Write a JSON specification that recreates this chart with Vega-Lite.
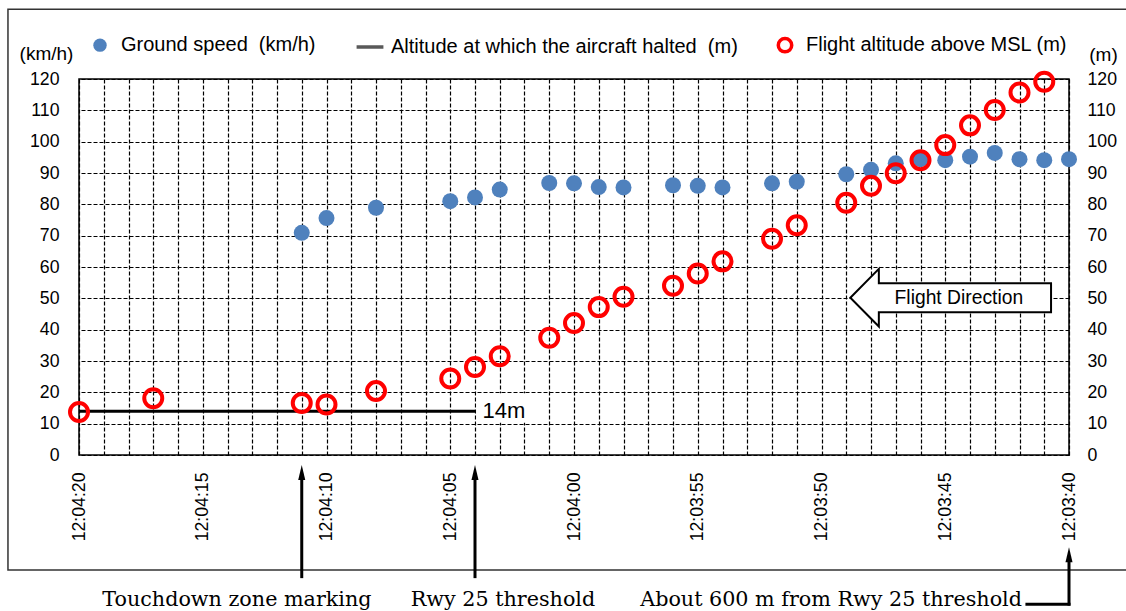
{
  "$schema": "https://vega.github.io/schema/vega-lite/v6.json",
  "width": 990,
  "height": 376,
  "autosize": {"type": "none"},
  "padding": {"left": 79, "top": 79, "right": 57, "bottom": 156},
  "background": "white",
  "config": {
    "font": "Liberation Sans",
    "view": {"stroke": "black", "strokeWidth": 1.5},
    "axis": {
      "domain": false, "ticks": false,
      "labelColor": "black", "labelFontSize": 17.7, "labelFont": "Liberation Sans",
      "titleFont": "Liberation Sans", "titleColor": "black", "titleFontSize": 19, "titleFontWeight": "normal",
      "gridColor": "black", "gridDash": [4, 2], "gridWidth": 1.2, "gridOpacity": 1,
      "labelFlush": false, "labelOverlap": false
    },
    "legend": {
      "orient": "none", "legendX": 11, "legendY": -44, "direction": "horizontal",
      "labelFontSize": 20, "labelColor": "black", "labelFont": "Liberation Sans", "labelLimit": 0,
      "labelOffset": 11, "columnPadding": 33, "symbolStrokeWidth": 3.5, "symbolSize": 180, "padding": 0, "symbolOpacity": 1
    }
  },
  "datasets": {
    "flight": [
      {"time": "2012-01-01T12:04:11", "series": "speed", "value": 70.9},
      {"time": "2012-01-01T12:04:10", "series": "speed", "value": 75.6},
      {"time": "2012-01-01T12:04:08", "series": "speed", "value": 78.9},
      {"time": "2012-01-01T12:04:05", "series": "speed", "value": 81.0},
      {"time": "2012-01-01T12:04:04", "series": "speed", "value": 82.2},
      {"time": "2012-01-01T12:04:03", "series": "speed", "value": 84.7},
      {"time": "2012-01-01T12:04:01", "series": "speed", "value": 86.8},
      {"time": "2012-01-01T12:04:00", "series": "speed", "value": 86.7},
      {"time": "2012-01-01T12:03:59", "series": "speed", "value": 85.5},
      {"time": "2012-01-01T12:03:58", "series": "speed", "value": 85.4},
      {"time": "2012-01-01T12:03:56", "series": "speed", "value": 86.1},
      {"time": "2012-01-01T12:03:55", "series": "speed", "value": 85.9},
      {"time": "2012-01-01T12:03:54", "series": "speed", "value": 85.4},
      {"time": "2012-01-01T12:03:52", "series": "speed", "value": 86.7},
      {"time": "2012-01-01T12:03:51", "series": "speed", "value": 87.2},
      {"time": "2012-01-01T12:03:49", "series": "speed", "value": 89.6},
      {"time": "2012-01-01T12:03:48", "series": "speed", "value": 91.0},
      {"time": "2012-01-01T12:03:47", "series": "speed", "value": 93.1},
      {"time": "2012-01-01T12:03:46", "series": "speed", "value": 94.4},
      {"time": "2012-01-01T12:03:45", "series": "speed", "value": 94.1},
      {"time": "2012-01-01T12:03:44", "series": "speed", "value": 95.2},
      {"time": "2012-01-01T12:03:43", "series": "speed", "value": 96.4},
      {"time": "2012-01-01T12:03:42", "series": "speed", "value": 94.4},
      {"time": "2012-01-01T12:03:41", "series": "speed", "value": 94.1},
      {"time": "2012-01-01T12:03:40", "series": "speed", "value": 94.4},
      {"time": "2012-01-01T12:04:20", "series": "alt", "value": 13.7},
      {"time": "2012-01-01T12:04:17", "series": "alt", "value": 18.1},
      {"time": "2012-01-01T12:04:11", "series": "alt", "value": 16.6},
      {"time": "2012-01-01T12:04:10", "series": "alt", "value": 16.1},
      {"time": "2012-01-01T12:04:08", "series": "alt", "value": 20.4},
      {"time": "2012-01-01T12:04:05", "series": "alt", "value": 24.4},
      {"time": "2012-01-01T12:04:04", "series": "alt", "value": 28.1},
      {"time": "2012-01-01T12:04:03", "series": "alt", "value": 31.5},
      {"time": "2012-01-01T12:04:01", "series": "alt", "value": 37.4},
      {"time": "2012-01-01T12:04:00", "series": "alt", "value": 42.1},
      {"time": "2012-01-01T12:03:59", "series": "alt", "value": 47.2},
      {"time": "2012-01-01T12:03:58", "series": "alt", "value": 50.5},
      {"time": "2012-01-01T12:03:56", "series": "alt", "value": 54.0},
      {"time": "2012-01-01T12:03:55", "series": "alt", "value": 57.9},
      {"time": "2012-01-01T12:03:54", "series": "alt", "value": 61.8},
      {"time": "2012-01-01T12:03:52", "series": "alt", "value": 69.0},
      {"time": "2012-01-01T12:03:51", "series": "alt", "value": 73.3},
      {"time": "2012-01-01T12:03:49", "series": "alt", "value": 80.5},
      {"time": "2012-01-01T12:03:48", "series": "alt", "value": 85.9},
      {"time": "2012-01-01T12:03:47", "series": "alt", "value": 89.9},
      {"time": "2012-01-01T12:03:46", "series": "alt", "value": 94.1},
      {"time": "2012-01-01T12:03:45", "series": "alt", "value": 98.9},
      {"time": "2012-01-01T12:03:44", "series": "alt", "value": 105.2},
      {"time": "2012-01-01T12:03:43", "series": "alt", "value": 110.1},
      {"time": "2012-01-01T12:03:42", "series": "alt", "value": 115.7},
      {"time": "2012-01-01T12:03:41", "series": "alt", "value": 119.1}
    ],
    "halt": [
      {"start": "2012-01-01T12:04:20", "end": "2012-01-01T12:04:04", "value": 14}
    ]
  },
  "resolve": {"axis": {"y": "independent"}},
  "layer": [
    {
      "data": {"values": [{}]},
      "mark": {"type": "rect", "filled": false, "stroke": "#333333", "strokeWidth": 1.5},
      "encoding": {
        "x": {"datum": {"year": 2012, "month": 1, "date": 1, "hours": 12, "minutes": 4, "seconds": 22, "milliseconds": 870}, "type": "temporal", "scale": {"domain": [{"year": 2012, "month": 1, "date": 1, "hours": 12, "minutes": 3, "seconds": 40}, {"year": 2012, "month": 1, "date": 1, "hours": 12, "minutes": 4, "seconds": 20}], "reverse": true, "nice": false}},
        "x2": {"datum": {"year": 2012, "month": 1, "date": 1, "hours": 12, "minutes": 3, "seconds": 36}},
        "y": {"datum": 142.3, "type": "quantitative", "scale": {"domain": [0, 120], "nice": false}, "axis": null},
        "y2": {"datum": -36.7}
      }
    },
    {
      "data": {"values": [{}]},
      "mark": {"type": "rect", "fill": "white", "stroke": null},
      "encoding": {
        "x": {"datum": {"year": 2012, "month": 1, "date": 1, "hours": 12, "minutes": 4, "seconds": 3, "milliseconds": 950}, "type": "temporal"},
        "x2": {"datum": {"year": 2012, "month": 1, "date": 1, "hours": 12, "minutes": 4, "seconds": 1, "milliseconds": 400}},
        "y": {"datum": 19.7, "type": "quantitative", "axis": null},
        "y2": {"datum": 10.3}
      }
    },
    {
      "data": {"name": "halt"},
      "mark": {"type": "rule", "stroke": "black", "strokeWidth": 3},
      "encoding": {
        "x": {"field": "start", "type": "temporal"},
        "x2": {"field": "end"},
        "y": {"field": "value", "type": "quantitative",
          "axis": {"orient": "right", "values": [0, 10, 20, 30, 40, 50, 60, 70, 80, 90, 100, 110, 120], "grid": false, "labelPadding": 18, "labelAlign": "left",
            "title": "(m)", "titleAngle": 0, "titleAlign": "center", "titleBaseline": "middle", "titleX": 34, "titleY": -25}}
      }
    },
    {
      "data": {"name": "flight"},
      "transform": [{"filter": {"field": "series", "equal": "speed"}}],
      "mark": {"type": "point", "filled": true, "opacity": 1, "strokeWidth": 4, "size": 256},
      "encoding": {
        "x": {"field": "time", "type": "temporal",
          "axis": {"title": null, "grid": true, "tickCount": 40, "format": "%H:%M:%S",
            "labelExpr": "seconds(datum.value) % 5 == 0 ? datum.label : ''",
            "labelAngle": -90, "labelAlign": "right", "labelBaseline": "middle", "labelPadding": 17}},
        "y": {"field": "value", "type": "quantitative",
          "axis": {"orient": "left", "values": [0, 10, 20, 30, 40, 50, 60, 70, 80, 90, 100, 110, 120], "grid": true, "labelPadding": 20,
            "title": "(km/h)", "titleAngle": 0, "titleAlign": "center", "titleBaseline": "middle", "titleX": -33, "titleY": -26}},
        "fill": {"field": "series", "type": "nominal",
          "scale": {"domain": ["speed", "halt", "alt"], "range": ["#4F81BD", "transparent", "transparent"]},
          "legend": {"title": null, "labelExpr": "datum.value === 'speed' ? 'Ground speed\u00a0 (km/h)' : datum.value === 'halt' ? 'Altitude at which the aircraft halted\u00a0 (m)' : 'Flight altitude above MSL (m)'"}},
        "stroke": {"field": "series", "type": "nominal",
          "scale": {"domain": ["speed", "halt", "alt"], "range": ["transparent", "#595959", "#FF0000"]},
          "legend": {"title": null, "labelExpr": "datum.value === 'speed' ? 'Ground speed\u00a0 (km/h)' : datum.value === 'halt' ? 'Altitude at which the aircraft halted\u00a0 (m)' : 'Flight altitude above MSL (m)'"}},
        "shape": {"field": "series", "type": "nominal",
          "scale": {"domain": ["speed", "halt", "alt"], "range": ["circle", "M-2,0L2,0", "circle"]},
          "legend": {"title": null, "labelExpr": "datum.value === 'speed' ? 'Ground speed\u00a0 (km/h)' : datum.value === 'halt' ? 'Altitude at which the aircraft halted\u00a0 (m)' : 'Flight altitude above MSL (m)'"}}
      }
    },
    {
      "data": {"name": "flight"},
      "transform": [{"filter": {"field": "series", "equal": "alt"}}],
      "mark": {"type": "point", "filled": true, "opacity": 1, "strokeWidth": 4, "size": 324},
      "encoding": {
        "x": {"field": "time", "type": "temporal"},
        "y": {"field": "value", "type": "quantitative", "axis": null},
        "fill": {"field": "series", "type": "nominal",
          "legend": {"title": null, "labelExpr": "datum.value === 'speed' ? 'Ground speed\u00a0 (km/h)' : datum.value === 'halt' ? 'Altitude at which the aircraft halted\u00a0 (m)' : 'Flight altitude above MSL (m)'"}},
        "stroke": {"field": "series", "type": "nominal",
          "legend": {"title": null, "labelExpr": "datum.value === 'speed' ? 'Ground speed\u00a0 (km/h)' : datum.value === 'halt' ? 'Altitude at which the aircraft halted\u00a0 (m)' : 'Flight altitude above MSL (m)'"}},
        "shape": {"field": "series", "type": "nominal",
          "legend": {"title": null, "labelExpr": "datum.value === 'speed' ? 'Ground speed\u00a0 (km/h)' : datum.value === 'halt' ? 'Altitude at which the aircraft halted\u00a0 (m)' : 'Flight altitude above MSL (m)'"}}
      }
    },
    {
      "data": {"values": [{}]},
      "mark": {"type": "text", "text": "14m", "fontSize": 22, "align": "left", "baseline": "middle", "color": "black"},
      "encoding": {
        "x": {"datum": {"year": 2012, "month": 1, "date": 1, "hours": 12, "minutes": 4, "seconds": 3, "milliseconds": 700}, "type": "temporal"},
        "y": {"datum": 14, "type": "quantitative", "axis": null}
      }
    },
    {
      "data": {"values": [{}]},
      "mark": {"type": "point", "shape": "M-1,0L-0.716,-0.287L-0.716,-0.145L1,-0.145L1,0.145L-0.716,0.145L-0.716,0.287Z", "size": 40280, "filled": true, "fill": "white", "stroke": "black", "strokeWidth": 2, "opacity": 1},
      "encoding": {
        "x": {"datum": {"year": 2012, "month": 1, "date": 1, "hours": 12, "minutes": 3, "seconds": 44, "milliseconds": 780}, "type": "temporal"},
        "y": {"datum": 50.2, "type": "quantitative", "axis": null}
      }
    },
    {
      "data": {"values": [{}]},
      "mark": {"type": "text", "text": "Flight Direction", "fontSize": 19.3, "align": "center", "baseline": "middle", "color": "black"},
      "encoding": {
        "x": {"datum": {"year": 2012, "month": 1, "date": 1, "hours": 12, "minutes": 3, "seconds": 44, "milliseconds": 450}, "type": "temporal"},
        "y": {"datum": 50.2, "type": "quantitative", "axis": null}
      }
    },
    {
      "data": {"values": [{}]},
      "mark": {"type": "rule", "stroke": "black", "strokeWidth": 3},
      "encoding": {
        "x": {"datum": {"year": 2012, "month": 1, "date": 1, "hours": 12, "minutes": 4, "seconds": 11}, "type": "temporal"},
        "y": {"datum": -7.3, "type": "quantitative", "axis": null},
        "y2": {"datum": -39.3}
      }
    },
    {
      "data": {"values": [{}]},
      "mark": {"type": "rule", "stroke": "black", "strokeWidth": 3},
      "encoding": {
        "x": {"datum": {"year": 2012, "month": 1, "date": 1, "hours": 12, "minutes": 4, "seconds": 4}, "type": "temporal"},
        "y": {"datum": -7.3, "type": "quantitative", "axis": null},
        "y2": {"datum": -39.3}
      }
    },
    {
      "data": {"values": [{}]},
      "mark": {"type": "rule", "stroke": "black", "strokeWidth": 3, "strokeCap": "square"},
      "encoding": {
        "x": {"datum": {"year": 2012, "month": 1, "date": 1, "hours": 12, "minutes": 3, "seconds": 40}, "type": "temporal"},
        "y": {"datum": -33.5, "type": "quantitative", "axis": null},
        "y2": {"datum": -47.6}
      }
    },
    {
      "data": {"values": [{}]},
      "mark": {"type": "rule", "stroke": "black", "strokeWidth": 3, "strokeCap": "square"},
      "encoding": {
        "x": {"datum": {"year": 2012, "month": 1, "date": 1, "hours": 12, "minutes": 3, "seconds": 41, "milliseconds": 700}, "type": "temporal"},
        "x2": {"datum": {"year": 2012, "month": 1, "date": 1, "hours": 12, "minutes": 3, "seconds": 40}},
        "y": {"datum": -47.6, "type": "quantitative", "axis": null}
      }
    },
    {
      "data": {"values": [{}]},
      "mark": {"type": "point", "shape": "M0,-1L0.47,1L-0.47,1Z", "size": 225, "filled": true, "fill": "black", "stroke": null, "opacity": 1},
      "encoding": {
        "x": {"datum": {"year": 2012, "month": 1, "date": 1, "hours": 12, "minutes": 4, "seconds": 11}, "type": "temporal"},
        "y": {"datum": -5.6, "type": "quantitative", "axis": null}
      }
    },
    {
      "data": {"values": [{}]},
      "mark": {"type": "point", "shape": "M0,-1L0.47,1L-0.47,1Z", "size": 225, "filled": true, "fill": "black", "stroke": null, "opacity": 1},
      "encoding": {
        "x": {"datum": {"year": 2012, "month": 1, "date": 1, "hours": 12, "minutes": 4, "seconds": 4}, "type": "temporal"},
        "y": {"datum": -5.6, "type": "quantitative", "axis": null}
      }
    },
    {
      "data": {"values": [{}]},
      "mark": {"type": "point", "shape": "M0,-1L0.47,1L-0.47,1Z", "size": 225, "filled": true, "fill": "black", "stroke": null, "opacity": 1},
      "encoding": {
        "x": {"datum": {"year": 2012, "month": 1, "date": 1, "hours": 12, "minutes": 3, "seconds": 40}, "type": "temporal"},
        "y": {"datum": -31.8, "type": "quantitative", "axis": null}
      }
    },
    {
      "data": {"values": [{}]},
      "mark": {"type": "text", "text": "Touchdown zone marking", "font": "DejaVu Serif", "fontSize": 20.7, "align": "center", "baseline": "middle", "color": "black"},
      "encoding": {
        "x": {"datum": {"year": 2012, "month": 1, "date": 1, "hours": 12, "minutes": 4, "seconds": 13, "milliseconds": 620}, "type": "temporal"},
        "y": {"datum": -46.3, "type": "quantitative", "axis": null}
      }
    },
    {
      "data": {"values": [{}]},
      "mark": {"type": "text", "text": "Rwy 25 threshold", "font": "DejaVu Serif", "fontSize": 20.7, "align": "center", "baseline": "middle", "color": "black"},
      "encoding": {
        "x": {"datum": {"year": 2012, "month": 1, "date": 1, "hours": 12, "minutes": 4, "seconds": 2, "milliseconds": 870}, "type": "temporal"},
        "y": {"datum": -46.3, "type": "quantitative", "axis": null}
      }
    },
    {
      "data": {"values": [{}]},
      "mark": {"type": "text", "text": "About 600 m from Rwy 25 threshold", "font": "DejaVu Serif", "fontSize": 20.7, "align": "right", "baseline": "middle", "color": "black"},
      "encoding": {
        "x": {"datum": {"year": 2012, "month": 1, "date": 1, "hours": 12, "minutes": 3, "seconds": 41, "milliseconds": 900}, "type": "temporal"},
        "y": {"datum": -46.3, "type": "quantitative", "axis": null}
      }
    }
  ]
}
